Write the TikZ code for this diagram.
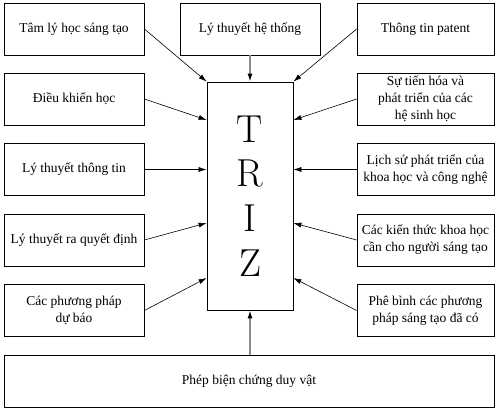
\documentclass[tikz,border=0pt]{standalone}
\usepackage{fontspec}
\setmainfont{Liberation Serif}
\newfontfamily\trizfont{Latin Modern Roman}
\usetikzlibrary{positioning,calc,arrows.meta}
\tikzset{
  box/.style={draw, line width=0.8pt, minimum width=140pt, minimum height=52pt,
    inner sep=0pt, align=center, font=\fontsize{13.5}{17}\selectfont},
  rbox/.style={box, minimum width=137pt},
  feed/.style={line width=0.6pt, -{Latex[length=8pt,width=5pt]}},
  greyfeed/.style={feed, draw=black!45, line width=1.2pt, -{Latex[length=8pt,width=5pt,color=black]}}
}
\begin{document}
\begin{tikzpicture}[x=1pt, y=-1pt]
      \useasboundingbox (0,0) rectangle (499,412);
      % centre block
      \node[draw, line width=0.8pt, minimum width=86pt, minimum height=228pt, inner sep=0pt,
        align=center, font=\trizfont\fontsize{39}{44.7}\selectfont] (triz) at (250,196) {T\\R\\I\\Z};

      % left column
      \node[box] (tamly) at (74,29) {Tâm lý học sáng tạo};
      \node[box] (dieukhien) at (74,99) {Điều khiển học};
      \node[box] (thongtin) at (74,169.5) {Lý thuyết thông tin};
      \node[box] (quyetdinh) at (74,240) {Lý thuyết ra quyết định};
      \node[box] (dubao) at (74,310.5) {Các phương pháp\\dự báo};

      % top and bottom
      \node[box] (hethong) at (250,29) {Lý thuyết hệ thống};
      \node[box, minimum width=490pt] (bienchung) at (249,381) {Phép biện chứng duy vật};

      % right column
      \node[rbox] (patent) at (425.5,29) {Thông tin patent};
      \node[rbox] (tienhoa) at (425.5,99) {Sự tiến hóa và\\phát triển của các\\hệ sinh học};
      \node[rbox] (lichsu) at (425.5,169.5) {Lịch sử phát triển của\\khoa học và công nghệ};
      \node[rbox] (kienthuc) at (425.5,240) {Các kiến thức khoa học\\cần cho người sáng tạo};
      \node[rbox] (phebinh) at (425.5,310.5) {Phê bình các phương\\pháp sáng tạo đã có};

      \draw[feed] (tamly.east) -- (triz.north west);
      \draw[feed] (dieukhien.east) -- ([yshift=76pt]triz.west);
      \draw[feed] (thongtin.east) -- (triz.west |- thongtin.east);
      \draw[feed] (quyetdinh.east) -- ([yshift=-27pt]triz.west);
      \draw[feed] (dubao.east) -- ([yshift=-82pt]triz.west);

      \draw[feed] (patent.west) -- (triz.north east);
      \draw[feed] (tienhoa.west) -- ([yshift=76pt]triz.east);
      \draw[feed] (lichsu.west) -- (triz.east |- lichsu.west);
      \draw[feed] (kienthuc.west) -- ([yshift=-27pt]triz.east);
      \draw[feed] (phebinh.west) -- ([yshift=-82pt]triz.east);

      \draw[greyfeed] (hethong.south) -- (triz.north);
      \draw[greyfeed] (bienchung.north -| triz.south) -- (triz.south);
\end{tikzpicture}
\end{document}
